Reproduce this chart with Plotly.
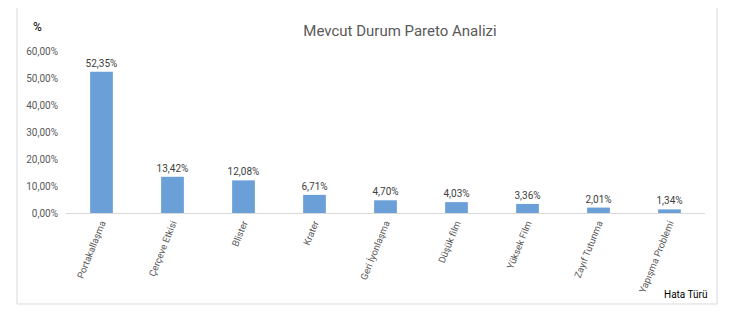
import plotly.graph_objects as go

categories = ["Portakallaşma", "Çerçeve Etkisi", "Blister", "Krater", "Geri İyonlaşma",
              "Düşük film", "Yüksek Film", "Zayıf Tutunma", "Yapışma Problemi"]
values = [0.5235, 0.1342, 0.1208, 0.0671, 0.0470, 0.0403, 0.0336, 0.0201, 0.0134]
y_ticks = [0, 0.1, 0.2, 0.3, 0.4, 0.5, 0.6]

FONT = "Roboto, sans-serif"
OFF = 8  # page body margin

fig = go.Figure()
fig.add_trace(go.Bar(
    x=categories, y=values,
    marker=dict(color="#6a9fd8", line=dict(width=0)),
    width=0.32,
    text=[f"{v*100:.2f}%".replace(".", ",") for v in values],
    textposition="outside",
    constraintext="none",
    textfont=dict(family=FONT, size=10, color="#404040"),
    cliponaxis=False,
))

fig.update_layout(
    width=742, height=320,
    margin=dict(l=66 - OFF, r=37 + OFF, t=51 - OFF, b=107 + OFF),
    paper_bgcolor="white", plot_bgcolor="white",
    separators=",.",
    showlegend=False,
    font=dict(family=FONT, color="#595959"),
    title=dict(text="Mevcut Durum Pareto Analizi", x=(400 - OFF) / 742, xref="container",
               y=1 - (31 - OFF) / 320, yref="container", xanchor="center", yanchor="middle",
               font=dict(family=FONT, size=15, color="#595959")),
    xaxis=dict(showline=True, linecolor="#d9d9d9", linewidth=1, ticks="",
               tickangle=-68, tickfont=dict(family=FONT, size=9.5, color="#595959"),
               showgrid=False, zeroline=False),
    yaxis=dict(range=[0, 0.6], tickvals=y_ticks, tickformat=".2%", showgrid=False,
               zeroline=False, showline=False, ticks="", ticklabelstandoff=7,
               tickfont=dict(family=FONT, size=10, color="#595959")),
    shapes=[dict(type="rect", xref="paper", yref="paper",
                 x0=-0.0767, x1=1.0188, y0=-0.5617, y1=1.2716,
                 line=dict(color="#d9d9d9", width=1), fillcolor="rgba(0,0,0,0)", layer="below")],
    annotations=[
        dict(text="%", xref="paper", yref="paper", x=(37-66)/639, y=(213-27)/162,
             showarrow=False, font=dict(family=FONT, size=12, color="#000000"),
             xanchor="center", yanchor="middle"),
        dict(text="Hata Türü", xref="paper", yref="paper", x=(686-66)/639, y=(213-294)/162,
             showarrow=False, font=dict(family=FONT, size=10, color="#000000"),
             xanchor="center", yanchor="middle"),
    ],
)

fig.write_html("out.html")
